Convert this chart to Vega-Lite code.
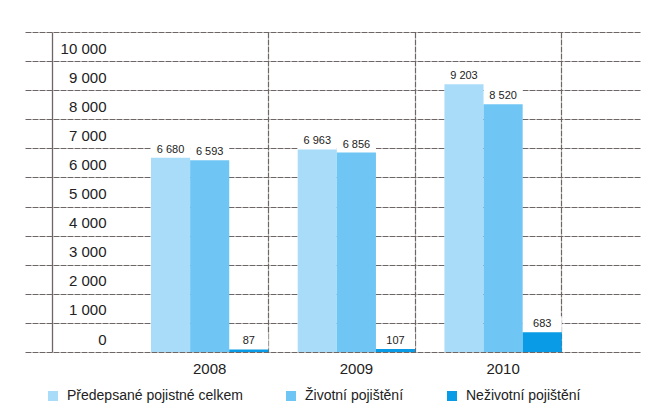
{
  "$schema": "https://vega.github.io/schema/vega-lite/v6.json",
  "width": 615,
  "height": 320,
  "autosize": {"type": "none"},
  "padding": {"left": 25, "top": 32, "right": 9, "bottom": 63},
  "background": "#ffffff",
  "data": {
    "values": [
      {"year": "2008", "series": "Předepsané pojistné celkem", "value": 6680},
      {"year": "2008", "series": "Životní pojištění", "value": 6593},
      {"year": "2008", "series": "Neživotní pojištění", "value": 87},
      {"year": "2009", "series": "Předepsané pojistné celkem", "value": 6963},
      {"year": "2009", "series": "Životní pojištění", "value": 6856},
      {"year": "2009", "series": "Neživotní pojištění", "value": 107},
      {"year": "2010", "series": "Předepsané pojistné celkem", "value": 9203},
      {"year": "2010", "series": "Životní pojištění", "value": 8520},
      {"year": "2010", "series": "Neživotní pojištění", "value": 683}
    ]
  },
  "encoding": {
    "x": {
      "field": "year", "type": "nominal",
      "scale": {"paddingInner": 0.2, "paddingOuter": 0.696, "align": 0.617},
      "axis": {
        "title": null, "orient": "bottom", "domain": false, "ticks": false,
        "labelAngle": 0, "labelFontSize": 15, "labelFont": "Liberation Sans",
        "labelColor": "#222222", "labelPadding": 9,
        "grid": true, "bandPosition": 1, "gridColor": "#6e6666", "gridWidth": 1.2, "gridDash": [6, 1]
      }
    },
    "xOffset": {
      "field": "series", "type": "nominal",
      "sort": ["Předepsané pojistné celkem", "Životní pojištění", "Neživotní pojištění"],
      "scale": {"paddingInner": 0, "paddingOuter": 0}
    },
    "y": {
      "field": "value", "type": "quantitative",
      "scale": {"domain": [0, 11000], "nice": false},
      "axis": {
        "title": null, "orient": "left", "offset": -27,
        "values": [0, 1000, 2000, 3000, 4000, 5000, 6000, 7000, 8000, 9000, 10000, 11000],
        "labelOverlap": false,
        "labelExpr": "datum.value > 10000 ? '' : replace(format(datum.value, ','), ',', ' ')",
        "domain": true, "domainColor": "#6e6666", "domainWidth": 1.3,
        "ticks": false, "labelAlign": "right", "labelPadding": -54, "labelOffset": -13,
        "labelBaseline": "middle", "labelFontSize": 15, "labelFont": "Liberation Sans",
        "labelColor": "#222222",
        "grid": true, "gridColor": "#6e6666", "gridWidth": 1.2, "gridDash": [6, 1]
      }
    }
  },
  "layer": [
    {
      "mark": {"type": "bar", "fill": "#ffffff", "y2Offset": -16},
      "encoding": {
        "y2": {"field": "value"}
      }
    },
    {
      "mark": {"type": "bar"},
      "encoding": {
        "color": {
          "field": "series", "type": "nominal",
          "sort": ["Předepsané pojistné celkem", "Životní pojištění", "Neživotní pojištění"],
          "scale": {
            "domain": ["Předepsané pojistné celkem", "Životní pojištění", "Neživotní pojištění"],
            "range": ["#a9dcf8", "#6fc6f4", "#0a9be6"]
          },
          "legend": {
            "title": null, "orient": "none", "legendX": 21, "legendY": 357,
            "direction": "horizontal", "columns": 3, "columnPadding": 41,
            "symbolType": "square", "symbolSize": 100, "symbolStrokeWidth": 0,
            "labelFontSize": 14, "labelFont": "Liberation Sans", "labelColor": "#222222",
            "labelOffset": 7, "padding": 0, "labelLimit": 400
          }
        }
      }
    },
    {
      "mark": {"type": "text", "baseline": "bottom", "dy": -3, "fontSize": 11, "font": "Liberation Sans", "color": "#222222"},
      "encoding": {
        "text": {"field": "value", "type": "quantitative", "format": ","}
      }
    }
  ],
  "config": {
    "view": {"stroke": null},
    "locale": {"number": {"decimal": ",", "thousands": " ", "grouping": [3], "currency": ["", " Kč"]}}
  }
}
